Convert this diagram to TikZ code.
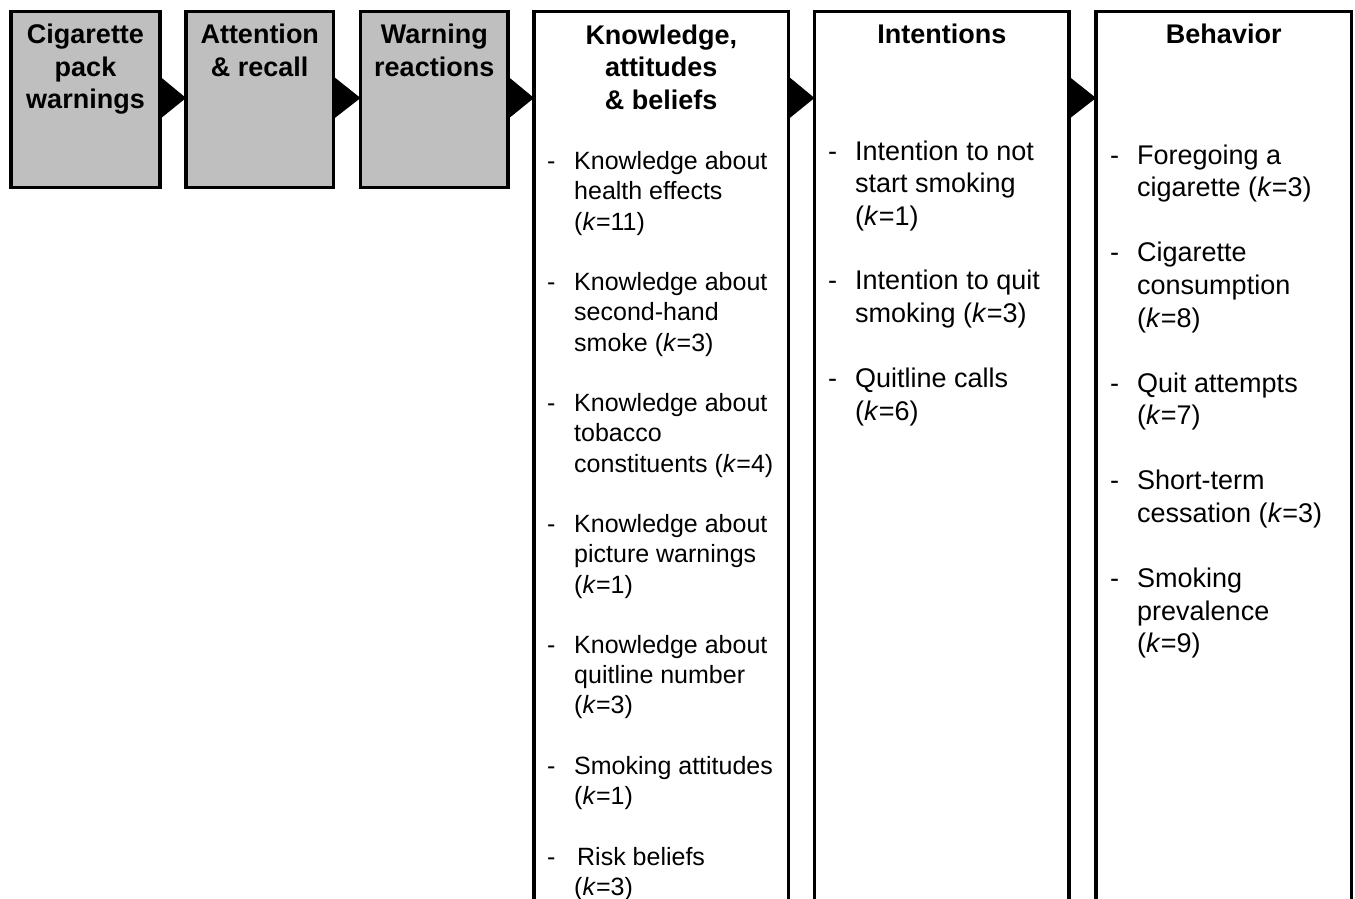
\documentclass[tikz,border=0pt]{standalone}
\usepackage{fontspec}
\setmainfont{Liberation Sans}
\usepackage{array}
\definecolor{boxgray}{RGB}{191,191,191}
\newcommand{\kval}[1]{(\textit{k}=#1)}
\begin{document}
\begin{tikzpicture}[x=1pt,y=-1pt,
  box/.style={draw=black, line width=3.5pt, inner sep=0pt, outer sep=0pt, anchor=north west},
  smallbox/.style={box, fill=boxgray, minimum height=176pt},
  tallbox/.style={box, fill=white, minimum height=950pt},
  arrowhead/.style={fill=black},
  title/.style={anchor=base, inner sep=0pt, font=\fontsize{27}{32.5}\selectfont\bfseries},
  listA/.style={anchor=base west, inner sep=0pt, font=\fontsize{25}{30.25}\selectfont},
  listB/.style={anchor=base west, inner sep=0pt, font=\fontsize{27}{32.5}\selectfont},
  listC/.style={anchor=base west, inner sep=0pt, font=\fontsize{27}{32.6}\selectfont}]
\useasboundingbox (0,0) rectangle (1355,899);
\clip (0,0) rectangle (1355,899);
\fill[white] (0,0) rectangle (1355,899);

% boxes
\node[smallbox, minimum width=149pt] (b1) at (11,11.5) {};
\node[smallbox, minimum width=147.5pt] (b2) at (186,11.5) {};
\node[smallbox, minimum width=147.5pt] (b3) at (360.5,11.5) {};
\node[tallbox, minimum width=254.5pt] (b4) at (534,11.5) {};
\node[tallbox, minimum width=254.5pt] (b5) at (814.5,11.5) {};
\node[tallbox, minimum width=255.5pt] (b6) at (1096,11.5) {};

% arrows
\foreach \a/\b in {b1/b2,b2/b3,b3/b4,b4/b5,b5/b6}{
  \fill[arrowhead] ([yshift=-65pt]\a.north east) -- ([yshift=-86.5pt]\b.north west) -- ([yshift=-107.5pt]\a.north east) -- cycle;
}

% titles
\node[title] (t1) at (85.5,44) {\begin{tabular}[t]{@{}c@{}}Cigarette\\pack\\warnings\end{tabular}};
\node[title] (t2) at (259.75,44) {\begin{tabular}[t]{@{}c@{}}Attention\\\& recall\end{tabular}};
\node[title] (t3) at (434.25,44) {\begin{tabular}[t]{@{}c@{}}Warning\\reactions\end{tabular}};
\node[title] (t4) at (661.25,44.5) {\begin{tabular}[t]{@{}c@{}}Knowledge,\\attitudes\\\& beliefs\end{tabular}};
\node[title] (t5) at (941.75,43.5) {Intentions};
\node[title] (t6) at (1223.75,43.5) {Behavior};

% lists
\node[listA] (l4) at (547,169.5) {\begin{tabular}[t]{@{}p{27pt}@{}l@{}}
-&Knowledge about\\
&health effects\\
&\kval{11}\\
&\\
-&Knowledge about\\
&second-hand\\
&smoke \kval{3}\\
&\\
-&Knowledge about\\
&tobacco\\
&constituents \kval{4}\\
&\\
-&Knowledge about\\
&picture warnings\\
&\kval{1}\\
&\\
-&Knowledge about\\
&quitline number\\
&\kval{3}\\
&\\
-&Smoking attitudes\\
&\kval{1}\\
&\\
-&\hspace{3pt}Risk beliefs\\
&\kval{3}
\end{tabular}};

\node[listB] (l5) at (828,160) {\begin{tabular}[t]{@{}p{27pt}@{}l@{}}
-&Intention to not\\
&start smoking\\
&\kval{1}\\
&\\
-&Intention to quit\\
&smoking \kval{3}\\
&\\
-&Quitline calls\\
&\kval{6}
\end{tabular}};

\node[listC] (l6) at (1110,164) {\begin{tabular}[t]{@{}p{27pt}@{}l@{}}
-&Foregoing a\\
&cigarette \kval{3}\\
&\\
-&Cigarette\\
&consumption\\
&\kval{8}\\
&\\
-&Quit attempts\\
&\kval{7}\\
&\\
-&Short-term\\
&cessation \kval{3}\\
&\\
-&Smoking\\
&prevalence\\
&\kval{9}
\end{tabular}};
\end{tikzpicture}
\end{document}
